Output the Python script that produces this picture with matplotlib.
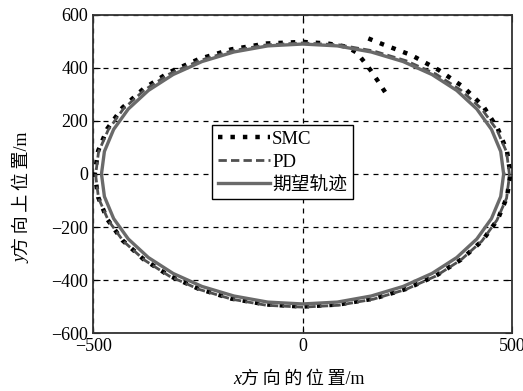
import matplotlib
matplotlib.use("Agg")
import matplotlib.pyplot as plt

plt.rcParams['font.family'] = ['Liberation Serif', 'Noto Sans CJK SC', 'DejaVu Sans']
plt.rcParams['axes.unicode_minus'] = True

# 期望轨迹 (读图估计, 每10度一个点)
ref_x = [480, 473, 451, 416, 368, 309, 240, 164, 83, 0,
         -83, -164, -240, -309, -368, -416, -451, -473, -480,
         -473, -451, -416, -368, -309, -240, -164, -83, 0,
         83, 164, 240, 309, 368, 416, 451, 473, 480]
ref_y = [0, 85, 168, 245, 315, 375, 424, 460, 483, 490,
         483, 460, 424, 375, 315, 245, 168, 85, 0,
         -85, -168, -245, -315, -375, -424, -460, -483, -490,
         -483, -460, -424, -375, -315, -245, -168, -85, 0]

# PD 跟踪轨迹
pd_x = [494, 487, 464, 428, 378, 318, 247, 169, 86, 0,
        -86, -169, -247, -318, -378, -428, -464, -487, -494,
        -487, -464, -428, -378, -318, -247, -169, -86, 0,
        86, 169, 247, 318, 378, 428, 464, 487, 494]
pd_y = [-4, 83, 166, 245, 316, 377, 427, 464, 487, 494,
        487, 464, 427, 377, 316, 245, 166, 83, -4,
        -91, -174, -253, -324, -385, -435, -472, -495, -502,
        -495, -472, -435, -385, -324, -253, -174, -91, -4]

# SMC 跟踪轨迹 (从 (197,309) 出发, 逆时针)
smc_x = [197, 180, 163, 146, 130, 105, 60, 0,
         -86, -170, -248, -319, -380, -430, -466, -488, -496,
         -488, -466, -430, -380, -319, -248, -170, -86, 0,
         86, 170, 248, 319, 380, 430, 466, 488, 496,
         488, 466, 432, 384, 325, 260, 190, 154]
smc_y = [309, 350, 390, 425, 457, 480, 492, 498,
         492, 470, 433, 383, 321, 250, 171, 87, 0,
         -87, -171, -250, -321, -383, -433, -470, -492, -500,
         -492, -470, -433, -383, -321, -250, -171, -87, 0,
         87, 171, 254, 328, 392, 448, 490, 513]

fig = plt.figure(figsize=(5.23, 3.91), dpi=100)
ax = fig.add_axes([0.178, 0.148, 0.801, 0.814])

ax.plot(smc_x, smc_y, color='black', lw=3.2, linestyle=(0, (1, 1.8)),
        dash_capstyle='butt', label='SMC', zorder=3)
ax.plot(pd_x, pd_y, color='#505050', lw=2.0, linestyle=(0, (3, 1.5)),
        label='PD', zorder=4)
ax.plot(ref_x, ref_y, color='#6a6a6a', lw=2.4, label='期望轨迹', zorder=5)

ax.set_xlim(-500, 500)
ax.set_ylim(-600, 600)
ax.set_xticks([-500, 0, 500])
ax.set_yticks([-600, -400, -200, 0, 200, 400, 600])
ax.grid(True, color='black', linestyle=(0, (4, 4)), linewidth=0.9)
ax.tick_params(direction='in', top=True, right=True, labelsize=13, length=5)
for s in ax.spines.values():
    s.set_linewidth(1.3)
    s.set_color('#333333')

# 坐标轴标签: 斜体 x / y 加中文 (字间略宽)
sp = '\u2009'
tx = fig.text(233 / 523, 1 - 384 / 391, 'x', fontsize=13, style='italic',
              family='Liberation Serif', ha='left', va='baseline')
ax.annotate(sp.join('方向的位置') + '/m', xy=(1, 0), xycoords=tx, fontsize=13,
            ha='left', va='bottom')
ty = fig.text(22 / 523, 1 - 263 / 391, 'y', fontsize=13, style='italic',
              family='Liberation Serif', rotation=90, ha='center', va='bottom')
ax.annotate(sp.join('方向上位置') + '/m', xy=(0.5, 1), xycoords=ty, fontsize=13,
            rotation=90, ha='center', va='bottom')

leg = ax.legend(loc='lower left', bbox_to_anchor=(0.284, 0.421), fontsize=13.5,
                handlelength=2.8, handletextpad=0.1, borderpad=0.3,
                labelspacing=0.3, fancybox=False, framealpha=1,
                borderaxespad=0)
leg.get_frame().set_edgecolor('black')
leg.get_frame().set_linewidth(1.0)

fig.savefig('out.png', dpi=100)
